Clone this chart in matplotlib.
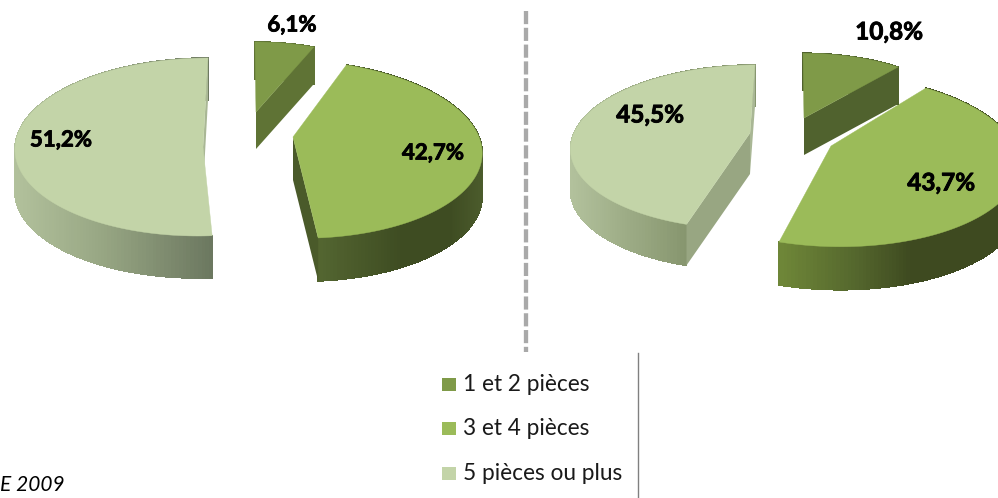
import numpy as np
import matplotlib
matplotlib.use('Agg')
import matplotlib.pyplot as plt
import matplotlib.patheffects as pe
from matplotlib.colors import to_rgb
from matplotlib.collections import PolyCollection

# data
categories = ['1 et 2 pièces', '3 et 4 pièces', '5 pièces ou plus']
left_values = [6.1, 42.7, 51.2]
right_values = [10.8, 43.7, 45.5]
left_labels = ['6,1%', '42,7%', '51,2%']
right_labels = ['10,8%', '43,7%', '45,5%']
source_text = 'E 2009'

# styles
top_colors = ['#7F9A48', '#9BBB59', '#C3D4A8']

# per slice geometry: apex x, apex y, rx, ry, perspective, skew, depth
left_geo = [(256, 112, 157, 70, 0.0, -1, 37),
            (293, 137, 186, 87.5, 0.136, -9, 43),
            (203, 147, 188, 89, 0.0, 5, 42)]
right_geo = [(804, 118, 157, 68, 0.05, -1, 37),
             (831, 146, 184, 84, 0.166, -9.5, 43),
             (750, 133, 176, 79.6, 0.17, 5, 41)]

# wall colours: (x, colour) gradient along the rim, then the cut faces as (edge, colour)
# edge 0 = start of the slice, 1 = end of the slice
left_walls = [[(250, '#5F7335'), (320, '#5F7335')],
              [(317, '#546631'), (400, '#3E4C22'), (450, '#3E4C22'), (482, '#4C5C2C')],
              [(14, '#B2C19C'), (100, '#98A784'), (210, '#6C7860')]]
left_cuts = [[(1, '#5F7335')], [(1, '#4A5A2A')], [(1, '#A9B795')]]
right_walls = [[(800, '#50622E'), (900, '#50622E')],
               [(779, '#6F8738'), (850, '#56692E'), (910, '#3E4A20'), (998, '#3E4A20')],
               [(571, '#B2C19C'), (684, '#87966F')]]
right_cuts = [[(1, '#50622E')], [], [(1, '#A9B795'), (0, '#98A682')]]


def rim(geo, a):
    ax0, ay0, rx, ry, k, sk, d = geo
    X, Y = np.sin(a), np.cos(a)
    s = 1 / (1 + k * Y)
    return ax0 + rx * X * s + sk * Y, ay0 - ry * Y * s


def draw_pie(ax, values, geos, walls, cuts):
    ends = np.cumsum(values) / sum(values) * 2 * np.pi
    starts = np.r_[0, ends[:-1]]
    for i in [2, 1, 0]:
        geo = geos[i]
        a = np.linspace(starts[i], ends[i], 160)
        x, y = rim(geo, a)
        d = geo[6]
        # outer wall, coloured strip by strip
        xs = [p[0] for p in walls[i]]
        rgb = np.array([to_rgb(p[1]) for p in walls[i]])
        quads, cols = [], []
        for j in range(len(a) - 1):
            quads.append([(x[j], y[j]), (x[j + 1], y[j + 1]),
                          (x[j + 1], y[j + 1] + d), (x[j], y[j] + d)])
            xm = (x[j] + x[j + 1]) / 2
            cols.append([np.interp(xm, xs, rgb[:, c]) for c in range(3)])
        ax.add_collection(PolyCollection(quads, facecolors=cols, edgecolors=cols, linewidths=0.5,
                                         antialiaseds=False, zorder=2 + (2 - i)))
        # cut faces
        for which, col in cuts[i]:
            ang = [starts[i], ends[i]][which]
            cx, cy = rim(geo, ang)
            ax.fill([geo[0], cx, cx, geo[0]], [geo[1], cy, cy + d, geo[1] + d],
                    color=col, lw=0, zorder=2.5 + (2 - i))
        # top face
        ax.fill(np.r_[geo[0], x], np.r_[geo[1], y], color=top_colors[i], lw=0.3, zorder=3 + (2 - i))


fig = plt.figure(figsize=(9.98, 4.98), dpi=100)
plt.rcParams['font.family'] = ['Lato', 'DejaVu Sans']
ax = fig.add_axes([0, 0, 1, 1])
ax.set_xlim(0, 998)
ax.set_ylim(498, 0)
ax.axis('off')

draw_pie(ax, left_values, left_geo, left_walls, left_cuts)
draw_pie(ax, right_values, right_geo, right_walls, right_cuts)

# value labels
thick = [pe.withStroke(linewidth=0.6, foreground='black')]
label_pos_left = [(292, 25), (433, 153), (61, 140)]
label_pos_right = [(889, 32), (941, 183), (650, 115)]
for lab, p in zip(left_labels, label_pos_left):
    ax.text(p[0], p[1], lab, ha='center', va='center', fontsize=16, fontweight='bold',
            color='black', zorder=10, path_effects=thick)
for lab, p in zip(right_labels, label_pos_right):
    ax.text(p[0], p[1], lab, ha='center', va='center', fontsize=17.5, fontweight='bold',
            color='black', zorder=10, path_effects=thick)

# separators
ax.plot([526, 526], [11, 352], color='#A9A9A9', lw=3.1, linestyle=(0, (3.05, 0.85)), dash_capstyle='butt')
ax.plot([638, 638], [353, 498], color='#808080', lw=1)

# legend
for i, cat in enumerate(categories):
    yy = 384 + i * 44.5
    ax.fill([442, 456, 456, 442], [yy - 6.5, yy - 6.5, yy + 6.5, yy + 6.5], color=top_colors[i], lw=0)
    ax.text(463, yy, cat, ha='left', va='center', fontsize=16.3, color='#1a1a1a')

ax.text(0, 485, source_text, ha='left', va='center', fontsize=15, style='italic', color='black')

fig.savefig('out.png', dpi=100)
